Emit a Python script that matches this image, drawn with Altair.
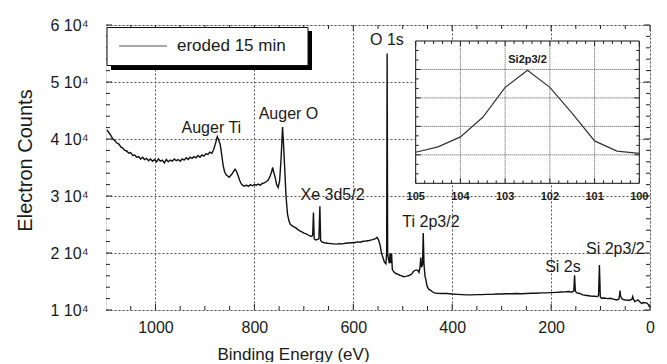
import altair as alt
import pandas as pd

# ---------------- data ----------------
series_name = "eroded 15 min"

energy = [
    1098, 1094, 1090, 1086, 1082, 1078, 1074, 1070, 1066, 1062, 1058, 1054, 1050, 1046, 1042,
    1038, 1034, 1030, 1026, 1022, 1018, 1014, 1010, 1006, 1002, 998, 994, 990, 986, 982, 978,
    974, 970, 966, 962, 958, 954, 950, 946, 942, 938, 934, 930, 926, 922, 918, 914, 910, 906,
    902, 898, 894, 890, 886, 882, 878, 875, 872, 869, 866, 863, 860, 857, 854, 851, 848, 845,
    842, 839, 836, 833, 830, 827, 824, 820, 816, 812, 808, 804, 800, 796, 792, 788, 784, 780,
    776, 772, 768, 765, 763, 761, 758, 755, 752, 749, 746, 743, 741, 739, 736, 733, 730, 727,
    724, 720, 716, 712, 708, 704, 700, 696, 692, 688, 684, 682, 680.5, 679, 676, 672, 669.5,
    667.5, 666, 663, 658, 652, 646, 640, 634, 628, 622, 616, 610, 604, 598, 592, 586, 580, 574,
    568, 563, 559, 555, 552, 549, 546, 543, 540, 537, 534, 532.5, 531.5, 530.5, 529, 527, 525.5,
    524, 522.5, 521, 518, 514, 510, 506, 502, 498, 494, 490, 486, 482, 478, 474, 470, 467, 465,
    463.5, 462, 460, 458.5, 457, 455, 453, 450.5, 447, 443.5, 440, 436, 430, 420, 410, 400, 390,
    380, 370, 360, 350, 340, 330, 320, 310, 300, 290, 280, 270, 260, 250, 240, 230, 220, 210,
    200, 190, 180, 170, 163, 158, 154, 152.5, 151, 148, 142, 136, 128, 120, 112, 106, 104, 102.3,
    100.5, 98, 92, 86, 80, 74, 68, 63, 61.5, 60.5, 59.5, 56, 50, 44, 40, 36.5, 35, 33.5, 30.5,
    27, 24, 20, 17, 13, 9, 6, 3, 0.5,
]
counts = [
    41600, 41100, 40600, 40000, 39700, 39300, 39100, 38600, 38400, 38000, 37900, 37500, 37600,
    37100, 37200, 36800, 36900, 36500, 36800, 36400, 36600, 36200, 36500, 36100, 36400, 36000,
    36500, 36100, 36300, 35800, 36400, 36000, 36300, 36100, 36500, 36200, 36400, 36100, 36500,
    36300, 36700, 36400, 36800, 36600, 36900, 36700, 37100, 36800, 37200, 37000, 37400, 37300,
    37700, 37500, 38200, 39400, 40400, 39800, 39000, 37200, 35300, 34200, 33700, 33500, 33300,
    33600, 33900, 34300, 34700, 34300, 33600, 32800, 32200, 31900, 31700, 31900, 31700, 32000,
    31800, 32000, 31900, 32100, 31900, 32200, 32300, 32500, 32800, 33500, 34300, 35000, 34200,
    33300, 32000, 31500, 32600, 36500, 42100, 39000, 35500, 30000, 26800, 25600, 25000, 24800,
    24600, 24400, 24100, 23900, 23700, 23500, 23400, 23200, 23000, 22900, 23200, 27100, 22500,
    22300, 22400, 22500, 28200, 22200, 21900, 21800, 21700, 21650, 21600, 21550, 21650, 21600,
    21700, 21750, 21800, 21800, 21950, 21900, 22050, 22100, 22200, 22300, 22400, 22500, 22750,
    22300, 21500, 20000, 19200, 18400, 18100, 20000, 55000, 20000, 19000, 18200, 20000, 18200,
    19800, 17100, 16700, 16400, 16300, 16100, 16000, 15850, 15900, 16000, 16100, 16300, 16800,
    17000, 17000, 16600, 17500, 19200, 17500, 18000, 23500, 18000, 16000, 15200, 14100, 13600,
    13450, 13200, 13000, 12950, 12900, 12900, 12800, 12750, 12700, 12650, 12650, 12700, 12700,
    12750, 12750, 12800, 12800, 12850, 12850, 12900, 12850, 12900, 12950, 12950, 13000, 13000,
    13050, 13100, 13150, 13200, 13250, 13100, 13400, 16100, 13300, 13000, 12900, 12650, 12550,
    12450, 12400, 12350, 12600, 17900, 12300, 12050, 12100, 12000, 12050, 11900, 11750, 11900,
    12600, 13400, 12400, 11900, 11750, 11700, 11750, 11900, 12350, 11900, 11450, 11700, 11750,
    11400, 11150, 11300, 11250, 11200, 10900, 10450,
]

peak_labels = ["Auger Ti", "Auger O", "Xe 3d5/2", "O 1s", "Ti 2p3/2", "Si 2s", "Si 2p3/2"]
peak_label_energy = [887, 731, 642, 532, 443, 176, 70]
peak_label_counts = [41900, 44300, 30200, 57400, 25400, 17500, 20650]

x_domain = [1100, 0]
y_domain = [10000, 60000]
x_ticks = [1000, 800, 600, 400, 200, 0]
y_ticks = [10000, 20000, 30000, 40000, 50000, 60000]

inset_energy = [105, 104.5, 104, 103.5, 103, 102.5, 102, 101.5, 101, 100.5, 100]
inset_intensity = [1.09, 1.28, 1.63, 2.32, 3.37, 3.97, 3.37, 2.46, 1.49, 1.13, 1.05]
inset_x_domain = [105, 100]
inset_y_domain = [0, 5]
inset_ticks = [105, 104, 103, 102, 101, 100]
inset_y_grid = [1, 2, 3, 4]
inset_label = "Si2p3/2"
inset_label_energy = 102.5
inset_label_value = 4.33

# ---------------- layout / style ----------------
W, H = 544, 285
INSET_X_RANGE = [309.7, 533.3]
INSET_Y_RANGE = [158.3, 16]
FONT = "Liberation Sans"
TXT = "#1a1a1a"

xs = alt.Scale(domain=x_domain, nice=False, zero=False)
ys = alt.Scale(domain=y_domain, nice=False, zero=False)
ixs = alt.Scale(domain=inset_x_domain, range=INSET_X_RANGE, nice=False, zero=False)
iys = alt.Scale(domain=inset_y_domain, range=INSET_Y_RANGE, nice=False, zero=False)

one = pd.DataFrame({"a": [0]})

spec_df = pd.DataFrame({"E": energy, "C": counts, "s": series_name})

spectrum = alt.Chart(spec_df).mark_line(strokeWidth=1.4, clip=True, color="#111").encode(
    x=alt.X("E:Q", scale=xs, axis=alt.Axis(
        values=x_ticks, format="d", grid=True, gridDash=[2, 2], gridColor="#555",
        ticks=False, domain=False, labelFlush=False, labelFont=FONT, labelFontSize=16,
        labelColor=TXT, labelPadding=9, title="Binding Energy (eV)", titleFont=FONT,
        titleFontSize=17, titleFontWeight="normal", titleColor=TXT, titleX=187,
        titleY=44, titleBaseline="middle", titleAlign="center")),
    y=alt.Y("C:Q", scale=ys, axis=alt.Axis(
        values=y_ticks, labelExpr="format(datum.value / 10000, 'd') + ' 10\u2074'",
        grid=True, gridDash=[2, 2], gridColor="#555", ticks=False, domain=False,
        labelFlush=False, labelFont=FONT, labelFontSize=16, labelColor=TXT,
        labelPadding=18, title="Electron Counts", titleFont=FONT, titleFontSize=20,
        titleFontWeight="normal", titleColor=TXT, titleAngle=270, titleX=-81,
        titleY=135, titleBaseline="middle", titleAlign="center")),
)

# legend box (drawn by hand, with its shadow)
legend_shadow = alt.Chart(one).mark_rect(color="black").encode(
    x=alt.value(5), x2=alt.value(206), y=alt.value(6), y2=alt.value(45))
legend_box = alt.Chart(one).mark_rect(fill="white", stroke="#111", strokeWidth=1).encode(
    x=alt.value(1), x2=alt.value(202), y=alt.value(2.5), y2=alt.value(40.5))
legend_line = alt.Chart(one).mark_rule(color="#555", strokeWidth=1).encode(
    x=alt.value(13), x2=alt.value(61), y=alt.value(21))
legend_text = alt.Chart(pd.DataFrame({"t": [series_name]})).mark_text(
    font=FONT, fontSize=17, color=TXT, align="left", baseline="middle").encode(
    x=alt.value(71), y=alt.value(21), text="t:N")

ann_df = pd.DataFrame({"t": peak_labels, "E": peak_label_energy, "C": peak_label_counts})
annotations = alt.Chart(ann_df).mark_text(
    font=FONT, fontSize=16, color=TXT, align="center", baseline="middle").encode(
    x=alt.X("E:Q", scale=xs, axis=None), y=alt.Y("C:Q", scale=ys, axis=None), text="t:N")


def xtick_layer(values, scale, y_from, y_to, color="#222"):
    d = pd.DataFrame({"v": values})
    return alt.Chart(d).mark_rule(color=color, strokeWidth=1).encode(
        x=alt.X("v:Q", scale=scale, axis=None), y=alt.value(y_from), y2=alt.value(y_to))


def ytick_layer(values, scale, x_from, x_to, color="#222"):
    d = pd.DataFrame({"v": values})
    return alt.Chart(d).mark_rule(color=color, strokeWidth=1).encode(
        y=alt.Y("v:Q", scale=scale, axis=None), x=alt.value(x_from), x2=alt.value(x_to))


x_minor = [v for v in range(50, 1100, 50) if v % 200 != 0]
y_minor = [v for v in range(12000, 60000, 2000) if v % 10000 != 0]

main_ticks = [
    xtick_layer(x_ticks, xs, H, H - 6), xtick_layer(x_minor, xs, H, H - 4),
    xtick_layer(x_ticks, xs, 0, 6), xtick_layer(x_minor, xs, 0, 4),
    ytick_layer(y_ticks, ys, 0, 6), ytick_layer(y_minor, ys, 0, 4),
    ytick_layer(y_ticks, ys, W, W - 6), ytick_layer(y_minor, ys, W, W - 4),
]

# ---------------- inset ----------------
frame_df = pd.DataFrame({"x0": [inset_x_domain[0]], "x1": [inset_x_domain[1]],
                         "y0": [inset_y_domain[0]], "y1": [inset_y_domain[1]]})
inset_bg = alt.Chart(frame_df).mark_rect(fill="white", stroke="#111", strokeWidth=1).encode(
    x=alt.X("x0:Q", scale=ixs, axis=None), x2="x1",
    y=alt.Y("y0:Q", scale=iys, axis=None), y2="y1")

vgrid_df = pd.DataFrame({"v": inset_ticks[1:-1], "y0": inset_y_domain[0], "y1": inset_y_domain[1]})
inset_vgrid = alt.Chart(vgrid_df).mark_rule(color="#555", strokeDash=[1, 1]).encode(
    x=alt.X("v:Q", scale=ixs, axis=None), y=alt.Y("y0:Q", scale=iys, axis=None), y2="y1")
hgrid_df = pd.DataFrame({"v": inset_y_grid, "x0": inset_x_domain[0], "x1": inset_x_domain[1]})
inset_hgrid = alt.Chart(hgrid_df).mark_rule(color="#555", strokeDash=[1, 1]).encode(
    y=alt.Y("v:Q", scale=iys, axis=None), x=alt.X("x0:Q", scale=ixs, axis=None), x2="x1")

ix_minor = [round(100 + i * 0.2, 1) for i in range(1, 25) if i % 5 != 0]
iy_minor = [round(i / 3, 3) for i in range(1, 15) if i % 3 != 0]
IB, IT = INSET_Y_RANGE
IL, IR = INSET_X_RANGE
inset_tick_layers = [
    xtick_layer(ix_minor, ixs, IB, IB - 3), xtick_layer(inset_ticks, ixs, IB, IB - 5),
    xtick_layer(ix_minor, ixs, IT, IT + 3), xtick_layer(inset_ticks, ixs, IT, IT + 5),
    ytick_layer(iy_minor, iys, IL, IL + 3), ytick_layer(inset_y_grid, iys, IL, IL + 5),
    ytick_layer(iy_minor, iys, IR, IR - 3), ytick_layer(inset_y_grid, iys, IR, IR - 5),
]

inset_df = pd.DataFrame({"E": inset_energy, "I": inset_intensity})
inset_line = alt.Chart(inset_df).mark_line(color="#333", strokeWidth=1.2).encode(
    x=alt.X("E:Q", scale=ixs, axis=None), y=alt.Y("I:Q", scale=iys, axis=None))

ilab_df = pd.DataFrame({"v": inset_ticks})
inset_labels = alt.Chart(ilab_df).mark_text(
    font=FONT, fontSize=11, fontWeight="bold", color=TXT, align="center", baseline="middle").encode(
    x=alt.X("v:Q", scale=ixs, axis=None), y=alt.value(IB + 13.5), text=alt.Text("v:Q", format="d"))

ititle_df = pd.DataFrame({"t": [inset_label], "E": [inset_label_energy], "I": [inset_label_value]})
inset_title = alt.Chart(ititle_df).mark_text(
    font=FONT, fontSize=11, fontWeight="bold", color=TXT, align="center", baseline="middle").encode(
    x=alt.X("E:Q", scale=ixs, axis=None), y=alt.Y("I:Q", scale=iys, axis=None), text="t:N")

layers = [spectrum, annotations] + main_ticks + [
    legend_shadow, legend_box, legend_line, legend_text,
    inset_bg, inset_vgrid, inset_hgrid] + inset_tick_layers + [inset_line, inset_labels, inset_title]

chart = alt.layer(*layers).resolve_scale(
    x="independent", y="independent"
).properties(
    width=W, height=H,
    padding={"left": 98, "top": 17, "right": 9, "bottom": 52},
    autosize=alt.AutoSizeParams(type="none"),
).configure_view(stroke="#111", strokeWidth=1).configure(background="white")

chart.save("out.html", embed_options={"renderer": "svg", "actions": False})
